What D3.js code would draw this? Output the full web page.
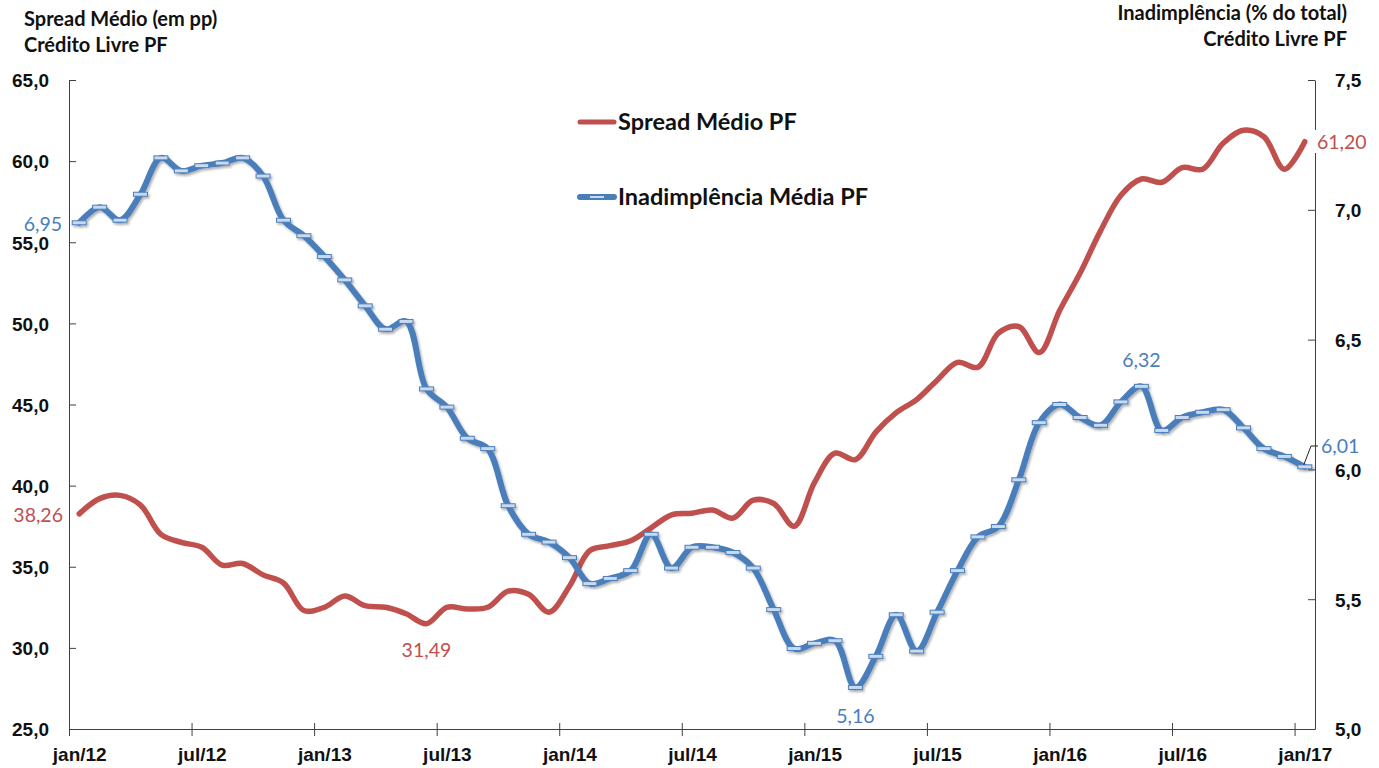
<!DOCTYPE html>
<html>
<head>
<meta charset="utf-8">
<script src="https://cdn.jsdelivr.net/npm/d3@7"></script>
<style>
  body { margin: 0; background: #fff; }
  svg { display: block; font-family: Lato, "Open Sans", sans-serif; }
</style>
</head>
<body>
<div id="chart"></div>
<script>
// meses jan/12 .. jan/17
var monthNames = ["jan", "fev", "mar", "abr", "mai", "jun", "jul", "ago", "set", "out", "nov", "dez"];
var years = ["12", "13", "14", "15", "16", "17"];
var months = [];
years.forEach(y => monthNames.forEach(m => months.push(m + "/" + y)));
months = months.slice(0, 61);

// Spread Médio PF (pp) - eixo esquerdo
var spread = [38.26, 39.2, 39.4, 38.8, 37.0, 36.5, 36.2, 35.1, 35.2, 34.5, 34.0, 32.3,
              32.5, 33.2, 32.6, 32.5, 32.1, 31.49, 32.5, 32.4, 32.5, 33.5, 33.3, 32.2,
              33.8, 36.0, 36.3, 36.6, 37.4, 38.2, 38.3, 38.5, 38.0, 39.1, 38.9, 37.5,
              40.2, 42.0, 41.6, 43.3, 44.5, 45.3, 46.5, 47.6, 47.3, 49.4, 49.8, 48.2,
              50.8, 53.1, 55.7, 57.9, 58.9, 58.7, 59.6, 59.5, 61.1, 61.9, 61.5, 59.5, 61.2];

// Inadimplência Média PF (% do total) - eixo direito
var inad = [6.95, 7.01, 6.96, 7.06, 7.20, 7.15, 7.17, 7.18, 7.20, 7.13, 6.96, 6.90,
            6.82, 6.73, 6.63, 6.54, 6.57, 6.31, 6.24, 6.12, 6.08, 5.86, 5.75, 5.72,
            5.66, 5.56, 5.58, 5.61, 5.75, 5.62, 5.70, 5.70, 5.68, 5.62, 5.46, 5.31,
            5.33, 5.34, 5.16, 5.28, 5.44, 5.30, 5.45, 5.61, 5.74, 5.78, 5.96, 6.18,
            6.25, 6.20, 6.17, 6.26, 6.32, 6.15, 6.20, 6.22, 6.23, 6.16, 6.08, 6.05, 6.01];

var leftTicks = [25, 30, 35, 40, 45, 50, 55, 60, 65];
var rightTicks = [5.0, 5.5, 6.0, 6.5, 7.0, 7.5];
var xTickIdx = [0, 6, 12, 18, 24, 30, 36, 42, 48, 54, 60];

var red = "#c0504d", blue = "#4a7ebb", axisColor = "#404040";

var width = 1379, height = 768;
var locale = d3.formatLocale({decimal: ",", thousands: ".", grouping: [3], currency: ["R$", ""]});
var f1 = locale.format(".1f"), f2 = locale.format(".2f");

var svg = d3.select("#chart").append("svg")
    .attr("width", width)
    .attr("height", height);

var x = d3.scaleBand().domain(d3.range(months.length)).range([69, 1315]).padding(0);
var xl = d3.scaleLinear().domain([0, months.length]).range([69, 1315]);
var yL = d3.scaleLinear().domain([25, 65]).range([729, 80]);
var yR = d3.scaleLinear().domain([5, 7.5]).range([729, 80]);
var cx = i => x(i) + x.bandwidth() / 2;

var defs = svg.append("defs");
var sh = defs.append("filter").attr("id", "shadow").attr("x", "-5%").attr("y", "-5%").attr("width", "110%").attr("height", "115%");
sh.append("feDropShadow").attr("dx", 1.5).attr("dy", 2).attr("stdDeviation", 1.2)
    .attr("flood-color", "#000").attr("flood-opacity", 0.3);

// eixos
var gL = svg.append("g").attr("transform", "translate(69,0)")
    .call(d3.axisLeft(yL).tickValues(leftTicks).tickFormat(f1).tickSizeInner(-7).tickSizeOuter(0).tickPadding(20));
var gR = svg.append("g").attr("transform", "translate(1315,0)")
    .call(d3.axisRight(yR).tickValues(rightTicks).tickFormat(f1).tickSizeInner(-7).tickSizeOuter(0).tickPadding(20));
var gX = svg.append("g").attr("transform", "translate(0,729)")
    .call(d3.axisBottom(xl).tickValues(xTickIdx).tickFormat(i => months[i]).tickSizeInner(7).tickSizeOuter(0));
gX.selectAll(".tick line").attr("y1", -6).attr("y2", 7);
gX.selectAll(".tick text").attr("x", x.bandwidth() / 2).attr("y", 32).attr("dy", 0);

[gL, gR, gX].forEach(g => {
    g.select(".domain").attr("stroke", axisColor);
    g.selectAll(".tick line").attr("stroke", axisColor);
    g.selectAll(".tick text").attr("fill", "#111").style("font-size", "19px").style("font-weight", "bold");
});
gL.selectAll(".tick text").attr("dy", "0.36em");
gR.selectAll(".tick text").attr("dy", "0.36em");

// linhas
var line = (scale) => d3.line()
    .x((d, i) => cx(i))
    .y(d => scale(d))
    .curve(d3.curveCatmullRom.alpha(0.5));

svg.append("path")
    .datum(spread)
    .attr("fill", "none")
    .attr("stroke", red)
    .attr("stroke-width", 5.5)
    .attr("stroke-linejoin", "round")
    .attr("stroke-linecap", "round")
    .attr("d", line(yL));

var gB = svg.append("g").attr("filter", "url(#shadow)");
gB.append("path")
    .datum(inad)
    .attr("fill", "none")
    .attr("stroke", blue)
    .attr("stroke-width", 6)
    .attr("stroke-linejoin", "round")
    .attr("stroke-linecap", "round")
    .attr("d", line(yR));
gB.selectAll("rect.mk")
    .data(inad)
    .join("rect")
    .attr("class", "mk")
    .attr("x", (d, i) => cx(i) - 7)
    .attr("y", d => yR(d) - 2)
    .attr("width", 14)
    .attr("height", 4)
    .attr("fill", "#c9daf0")
    .attr("stroke", blue)
    .attr("stroke-width", 1);

// rótulos de dados
function dataLabel(txt, px, py, anchor, color) {
    var g = svg.append("g");
    var t = g.append("text")
        .attr("x", px).attr("y", py)
        .attr("text-anchor", anchor)
        .attr("dy", "0.36em")
        .attr("fill", color)
        .style("font-size", "19.5px")
        .text(txt);
    var b = t.node().getBBox();
    g.insert("rect", "text")
        .attr("x", b.x - 2).attr("y", b.y)
        .attr("width", b.width + 4).attr("height", b.height)
        .attr("fill", "#fff");
}
dataLabel(f2(inad[0]), 62, 224, "end", blue);
dataLabel(f2(spread[0]), 63, 515, "end", red);
dataLabel(f2(spread[17]), cx(17), 650, "middle", red);
dataLabel(f2(inad[38]), cx(38), 716, "middle", blue);
dataLabel(f2(inad[52]), cx(52), 360, "middle", blue);
dataLabel(f2(spread[60]), 1317, 142, "start", red);

// 6,01 com linha de chamada
svg.append("polyline")
    .attr("points", [[cx(60) - 1, yR(inad[60]) - 2], [1311, 446], [1318, 446]].join(" "))
    .attr("fill", "none").attr("stroke", "#222").attr("stroke-width", 1);
svg.append("text")
    .attr("x", 1321).attr("y", 446).attr("dy", "0.36em")
    .attr("fill", blue).style("font-size", "19.5px")
    .text(f2(inad[60]));

// títulos
var tl = svg.append("text").attr("x", 24).attr("y", 26)
    .style("font-size", "20px").style("font-weight", "bold").attr("fill", "#111");
tl.append("tspan").attr("x", 24).text("Spread Médio (em pp)");
tl.append("tspan").attr("x", 24).attr("dy", 26).text("Crédito Livre PF");

var tr = svg.append("text").attr("x", 1347).attr("y", 20).attr("text-anchor", "end")
    .style("font-size", "20px").style("font-weight", "bold").attr("fill", "#111");
tr.append("tspan").attr("x", 1347).text("Inadimplência (% do total)");
tr.append("tspan").attr("x", 1347).attr("dy", 26).text("Crédito Livre PF");

// legenda
var legend = svg.append("g");
legend.append("line").attr("x1", 580).attr("x2", 614).attr("y1", 122).attr("y2", 122)
    .attr("stroke", red).attr("stroke-width", 5).attr("stroke-linecap", "round");
legend.append("text").attr("x", 618).attr("y", 130).text("Spread Médio PF")
    .style("font-size", "23.5px").style("font-weight", "bold").attr("fill", "#111");
legend.append("line").attr("x1", 580).attr("x2", 614).attr("y1", 197).attr("y2", 197)
    .attr("stroke", blue).attr("stroke-width", 6).attr("stroke-linecap", "round");
legend.append("rect").attr("x", 590).attr("y", 196).attr("width", 14).attr("height", 2).attr("fill", "#c9daf0");
legend.append("text").attr("x", 618).attr("y", 205).text("Inadimplência Média PF")
    .style("font-size", "23.5px").style("font-weight", "bold").attr("fill", "#111");
</script>
</body>
</html>
